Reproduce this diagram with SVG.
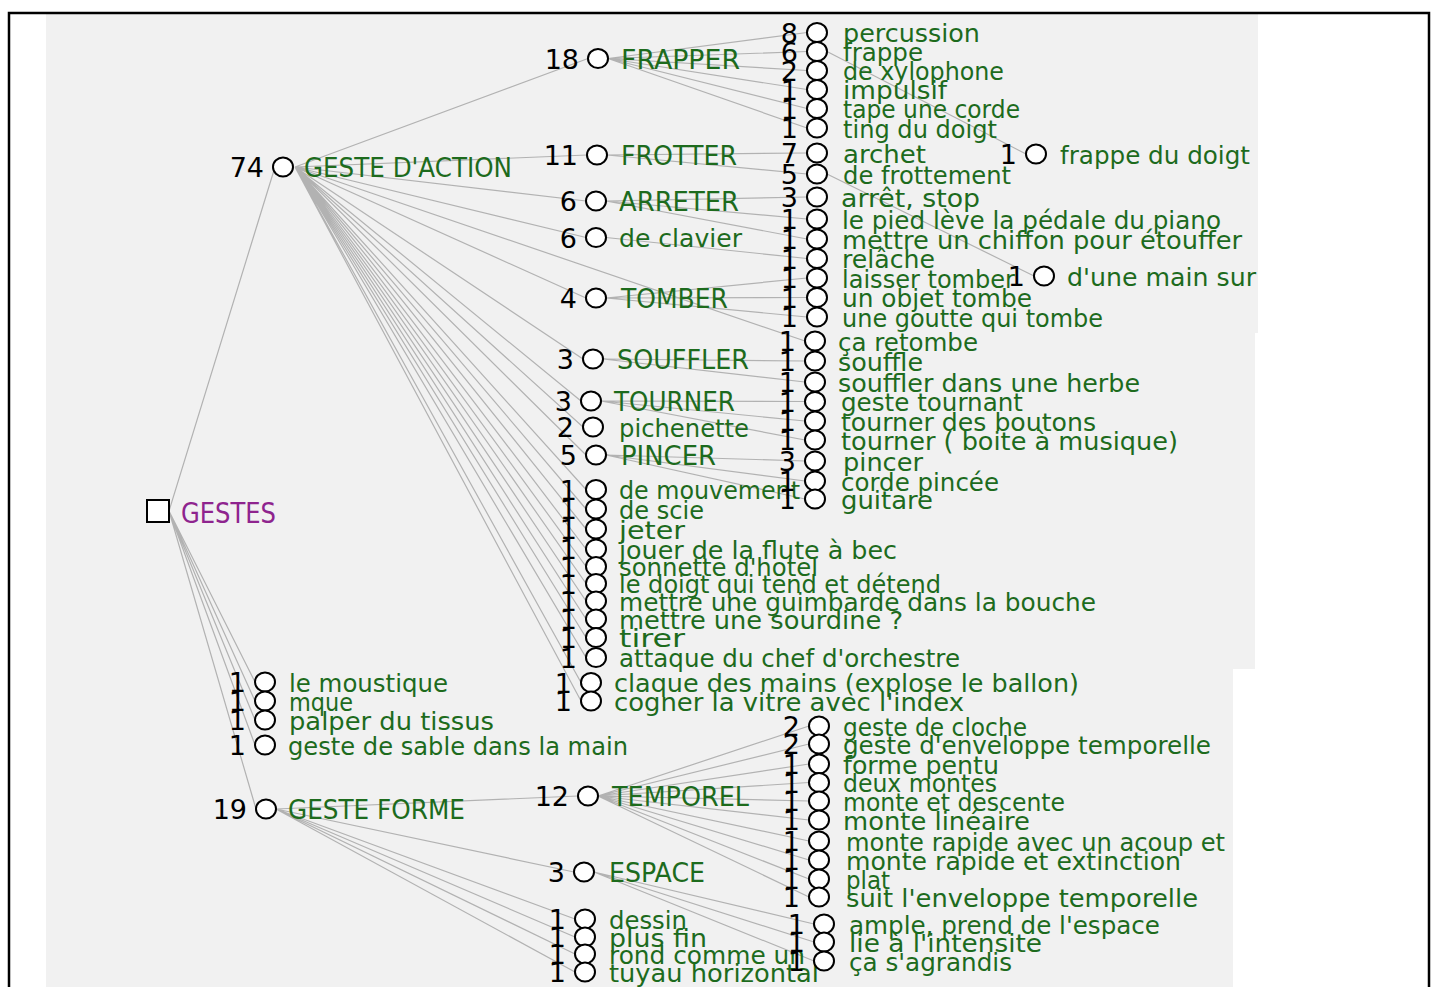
<svg xmlns="http://www.w3.org/2000/svg" width="1437" height="987" viewBox="0 0 1437 987">
<style>
.c{fill:#fff;stroke:#000;stroke-width:2}
.n{font-family:'DejaVu Sans',sans-serif;font-size:27px;fill:#000;text-anchor:end}
.l{font-family:'DejaVu Sans',sans-serif;font-size:24px;fill:#1d6b1d}
.u{font-size:27px}
.e{stroke:#b2b2b2;stroke-width:1.2;fill:none}
</style>
<rect x="0" y="0" width="1437" height="987" fill="#fff"/>
<polygon points="46,14 1258,14 1258,333 1255,333 1255,669 1233,669 1233,987 46,987" fill="#f1f1f1"/>
<rect x="9" y="13" width="1420" height="1000" fill="none" stroke="#000" stroke-width="2.5"/>
<g id="connectors" class="e">
<path d="M169,511L275,167M169,511L256,809M169,511L255,682M169,511L255,701M169,511L255,720M169,511L255,745"/>
<path d="M295,167L588,58.5M295,167L587,155M295,167L586,201M295,167L586,237.5M295,167L586,298M295,167L583,359M295,167L581,401M295,167L583,427M295,167L586,455M295,167L586,489.5M295,167L586,509M295,167L586,529M295,167L586,549M295,167L586,566.5M295,167L586,583.5M295,167L586,601M295,167L586,619M295,167L586,637.5M295,167L586,657.5M295,167L581,682.5M295,167L581,701M295,167L805,341"/>
<path d="M608,58.5L807,32.5M608,58.5L807,51.5M608,58.5L807,70.5M608,58.5L807,89.5M608,58.5L807,108.5M608,58.5L807,128M827,51.5L1026,154"/>
<path d="M607,155L807,153M607,155L807,174M827,174L1034,276"/>
<path d="M606,201L807,197M606,201L807,219M606,201L807,239M606,237.5L807,258.5"/>
<path d="M606,298L807,278M606,298L807,297.5M606,298L807,317"/>
<path d="M603,359L805,361M603,359L805,382M601,401L805,401.5M601,401L805,421M601,401L805,440"/>
<path d="M606,455L805,461M606,455L805,481M606,455L805,499"/>
<path d="M276,809L578,796M276,809L574,872M276,809L575,919M276,809L575,937M276,809L575,954M276,809L575,972"/>
<path d="M598,796L809,726M598,796L809,744M598,796L809,764M598,796L809,782.5M598,796L809,801M598,796L809,820M598,796L809,841M598,796L809,860M598,796L809,879M598,796L809,897"/>
<path d="M594,872L814,924M594,872L814,942M594,872L814,961"/>
</g>
<g id="root"><rect x="147" y="500" width="22" height="22" class="c"/><text x="181" y="523" font-family="'DejaVu Sans',sans-serif" font-size="28" fill="#8e248e" textLength="95" lengthAdjust="spacingAndGlyphs">GESTES</text></g>
<g id="n-action"><ellipse class="c" cx="283" cy="167" rx="10" ry="9.5"/><text class="n" x="264" y="177">74</text><text class="l u" x="304" y="177" textLength="208" lengthAdjust="spacingAndGlyphs">GESTE D'ACTION</text></g>
<g id="n-forme"><ellipse class="c" cx="266" cy="809" rx="10" ry="9.5"/><text class="n" x="247" y="819">19</text><text class="l u" x="288" y="819" textLength="177" lengthAdjust="spacingAndGlyphs">GESTE FORME</text></g>
<g id="n-moustique"><ellipse class="c" cx="265" cy="682" rx="10" ry="9.5"/><text class="n" x="246" y="692">1</text><text class="l" x="289" y="691.5" textLength="159" lengthAdjust="spacingAndGlyphs">le moustique</text></g>
<g id="n-mque"><ellipse class="c" cx="265" cy="701" rx="10" ry="9.5"/><text class="n" x="246" y="711">1</text><text class="l" x="289" y="710.5" textLength="64" lengthAdjust="spacingAndGlyphs">mque</text></g>
<g id="n-palper"><ellipse class="c" cx="265" cy="720" rx="10" ry="9.5"/><text class="n" x="246" y="730">1</text><text class="l" x="289" y="729.5" textLength="205" lengthAdjust="spacingAndGlyphs">palper du tissus</text></g>
<g id="n-sable"><ellipse class="c" cx="265" cy="745" rx="10" ry="9.5"/><text class="n" x="246" y="755">1</text><text class="l" x="288" y="754.5" textLength="340" lengthAdjust="spacingAndGlyphs">geste de sable dans la main</text></g>
<g id="n-frapper"><ellipse class="c" cx="598" cy="58.5" rx="10" ry="9.5"/><text class="n" x="579" y="68.5">18</text><text class="l u" x="621" y="68.5" textLength="119" lengthAdjust="spacingAndGlyphs">FRAPPER</text></g>
<g id="n-frotter"><ellipse class="c" cx="597" cy="155" rx="10" ry="9.5"/><text class="n" x="578" y="165">11</text><text class="l u" x="621" y="165" textLength="116" lengthAdjust="spacingAndGlyphs">FROTTER</text></g>
<g id="n-arreter"><ellipse class="c" cx="596" cy="201" rx="10" ry="9.5"/><text class="n" x="577" y="211">6</text><text class="l u" x="619" y="211" textLength="120" lengthAdjust="spacingAndGlyphs">ARRETER</text></g>
<g id="n-clavier"><ellipse class="c" cx="596" cy="237.5" rx="10" ry="9.5"/><text class="n" x="577" y="247.5">6</text><text class="l" x="619" y="247" textLength="123" lengthAdjust="spacingAndGlyphs">de clavier</text></g>
<g id="n-tomber"><ellipse class="c" cx="596" cy="298" rx="10" ry="9.5"/><text class="n" x="577" y="308">4</text><text class="l u" x="621" y="308" textLength="107" lengthAdjust="spacingAndGlyphs">TOMBER</text></g>
<g id="n-souffler"><ellipse class="c" cx="593" cy="359" rx="10" ry="9.5"/><text class="n" x="574" y="369">3</text><text class="l u" x="617" y="369" textLength="132" lengthAdjust="spacingAndGlyphs">SOUFFLER</text></g>
<g id="n-tourner"><ellipse class="c" cx="591" cy="401" rx="10" ry="9.5"/><text class="n" x="572" y="411">3</text><text class="l u" x="614" y="411" textLength="121" lengthAdjust="spacingAndGlyphs">TOURNER</text></g>
<g id="n-pichenette"><ellipse class="c" cx="593" cy="427" rx="10" ry="9.5"/><text class="n" x="574" y="437">2</text><text class="l" x="619" y="436.5" textLength="130" lengthAdjust="spacingAndGlyphs">pichenette</text></g>
<g id="n-pincer"><ellipse class="c" cx="596" cy="455" rx="10" ry="9.5"/><text class="n" x="577" y="465">5</text><text class="l u" x="621" y="465" textLength="95" lengthAdjust="spacingAndGlyphs">PINCER</text></g>
<g id="n-mouvement"><ellipse class="c" cx="596" cy="489.5" rx="10" ry="9.5"/><text class="n" x="577" y="499.5">1</text><text class="l" x="619" y="499" textLength="181" lengthAdjust="spacingAndGlyphs">de mouvement</text></g>
<g id="n-scie"><ellipse class="c" cx="596" cy="509" rx="10" ry="9.5"/><text class="n" x="577" y="519">1</text><text class="l" x="619" y="518.5" textLength="85" lengthAdjust="spacingAndGlyphs">de scie</text></g>
<g id="n-jeter"><ellipse class="c" cx="596" cy="529" rx="10" ry="9.5"/><text class="n" x="577" y="539">1</text><text class="l" x="619" y="538.5" textLength="66" lengthAdjust="spacingAndGlyphs">jeter</text></g>
<g id="n-flute"><ellipse class="c" cx="596" cy="549" rx="10" ry="9.5"/><text class="n" x="577" y="559">1</text><text class="l" x="619" y="558.5" textLength="278" lengthAdjust="spacingAndGlyphs">jouer de la flute à bec</text></g>
<g id="n-sonnette"><ellipse class="c" cx="596" cy="566.5" rx="10" ry="9.5"/><text class="n" x="577" y="576.5">1</text><text class="l" x="619" y="576" textLength="199" lengthAdjust="spacingAndGlyphs">sonnette d'hotel</text></g>
<g id="n-doigt"><ellipse class="c" cx="596" cy="583.5" rx="10" ry="9.5"/><text class="n" x="577" y="593.5">1</text><text class="l" x="619" y="593" textLength="322" lengthAdjust="spacingAndGlyphs">le doigt qui tend et détend</text></g>
<g id="n-guimbarde"><ellipse class="c" cx="596" cy="601" rx="10" ry="9.5"/><text class="n" x="577" y="611">1</text><text class="l" x="619" y="610.5" textLength="477" lengthAdjust="spacingAndGlyphs">mettre une guimbarde dans la bouche</text></g>
<g id="n-sourdine"><ellipse class="c" cx="596" cy="619" rx="10" ry="9.5"/><text class="n" x="577" y="629">1</text><text class="l" x="619" y="628.5" textLength="284" lengthAdjust="spacingAndGlyphs">mettre une sourdine ?</text></g>
<g id="n-tirer"><ellipse class="c" cx="596" cy="637.5" rx="10" ry="9.5"/><text class="n" x="577" y="647.5">1</text><text class="l" x="619" y="647" textLength="66" lengthAdjust="spacingAndGlyphs">tirer</text></g>
<g id="n-attaque"><ellipse class="c" cx="596" cy="657.5" rx="10" ry="9.5"/><text class="n" x="577" y="667.5">1</text><text class="l" x="619" y="667" textLength="341" lengthAdjust="spacingAndGlyphs">attaque du chef d'orchestre</text></g>
<g id="n-claque"><ellipse class="c" cx="591" cy="682.5" rx="10" ry="9.5"/><text class="n" x="572" y="692.5">1</text><text class="l" x="614" y="692" textLength="465" lengthAdjust="spacingAndGlyphs">claque des mains (explose le ballon)</text></g>
<g id="n-cogner"><ellipse class="c" cx="591" cy="701" rx="10" ry="9.5"/><text class="n" x="572" y="711">1</text><text class="l" x="614" y="710.5" textLength="350" lengthAdjust="spacingAndGlyphs">cogner la vitre avec l'index</text></g>
<g id="n-percussion"><ellipse class="c" cx="817" cy="32.5" rx="10" ry="9.5"/><text class="n" x="798" y="42.5">8</text><text class="l" x="843" y="42" textLength="137" lengthAdjust="spacingAndGlyphs">percussion</text></g>
<g id="n-frappe"><ellipse class="c" cx="817" cy="51.5" rx="10" ry="9.5"/><text class="n" x="798" y="61.5">6</text><text class="l" x="843" y="61" textLength="80" lengthAdjust="spacingAndGlyphs">frappe</text></g>
<g id="n-xylophone"><ellipse class="c" cx="817" cy="70.5" rx="10" ry="9.5"/><text class="n" x="798" y="80.5">2</text><text class="l" x="843" y="80" textLength="161" lengthAdjust="spacingAndGlyphs">de xylophone</text></g>
<g id="n-impulsif"><ellipse class="c" cx="817" cy="89.5" rx="10" ry="9.5"/><text class="n" x="798" y="99.5">1</text><text class="l" x="843" y="99" textLength="104" lengthAdjust="spacingAndGlyphs">impulsif</text></g>
<g id="n-tape"><ellipse class="c" cx="817" cy="108.5" rx="10" ry="9.5"/><text class="n" x="798" y="118.5">1</text><text class="l" x="843" y="118" textLength="177" lengthAdjust="spacingAndGlyphs">tape une corde</text></g>
<g id="n-ting"><ellipse class="c" cx="817" cy="128" rx="10" ry="9.5"/><text class="n" x="798" y="138">1</text><text class="l" x="843" y="137.5" textLength="154" lengthAdjust="spacingAndGlyphs">ting du doigt</text></g>
<g id="n-archet"><ellipse class="c" cx="817" cy="153" rx="10" ry="9.5"/><text class="n" x="798" y="163">7</text><text class="l" x="843" y="162.5" textLength="83" lengthAdjust="spacingAndGlyphs">archet</text></g>
<g id="n-frottement"><ellipse class="c" cx="817" cy="174" rx="10" ry="9.5"/><text class="n" x="798" y="184">5</text><text class="l" x="843" y="183.5" textLength="168" lengthAdjust="spacingAndGlyphs">de frottement</text></g>
<g id="n-arret"><ellipse class="c" cx="817" cy="197" rx="10" ry="9.5"/><text class="n" x="798" y="207">3</text><text class="l" x="841" y="206.5" textLength="139" lengthAdjust="spacingAndGlyphs">arrêt, stop</text></g>
<g id="n-pied"><ellipse class="c" cx="817" cy="219" rx="10" ry="9.5"/><text class="n" x="798" y="229">1</text><text class="l" x="842" y="228.5" textLength="379" lengthAdjust="spacingAndGlyphs">le pied lève la pédale du piano</text></g>
<g id="n-chiffon"><ellipse class="c" cx="817" cy="239" rx="10" ry="9.5"/><text class="n" x="798" y="249">1</text><text class="l" x="842" y="248.5" textLength="400" lengthAdjust="spacingAndGlyphs">mettre un chiffon pour étouffer</text></g>
<g id="n-relache"><ellipse class="c" cx="817" cy="258.5" rx="10" ry="9.5"/><text class="n" x="798" y="268.5">1</text><text class="l" x="842" y="268" textLength="93" lengthAdjust="spacingAndGlyphs">relâche</text></g>
<g id="n-laisser"><ellipse class="c" cx="817" cy="278" rx="10" ry="9.5"/><text class="n" x="798" y="288">1</text><text class="l" x="842" y="287.5" textLength="173" lengthAdjust="spacingAndGlyphs">laisser tomber</text></g>
<g id="n-objet"><ellipse class="c" cx="817" cy="297.5" rx="10" ry="9.5"/><text class="n" x="798" y="307.5">1</text><text class="l" x="842" y="307" textLength="190" lengthAdjust="spacingAndGlyphs">un objet tombe</text></g>
<g id="n-goutte"><ellipse class="c" cx="817" cy="317" rx="10" ry="9.5"/><text class="n" x="798" y="327">1</text><text class="l" x="842" y="326.5" textLength="261" lengthAdjust="spacingAndGlyphs">une goutte qui tombe</text></g>
<g id="n-retombe"><ellipse class="c" cx="815" cy="341" rx="10" ry="9.5"/><text class="n" x="796" y="351">1</text><text class="l" x="838" y="350.5" textLength="140" lengthAdjust="spacingAndGlyphs">ça retombe</text></g>
<g id="n-souffle"><ellipse class="c" cx="815" cy="361" rx="10" ry="9.5"/><text class="n" x="796" y="371">1</text><text class="l" x="838" y="370.5" textLength="85" lengthAdjust="spacingAndGlyphs">souffle</text></g>
<g id="n-herbe"><ellipse class="c" cx="815" cy="382" rx="10" ry="9.5"/><text class="n" x="796" y="392">1</text><text class="l" x="838" y="391.5" textLength="302" lengthAdjust="spacingAndGlyphs">souffler dans une herbe</text></g>
<g id="n-tournant"><ellipse class="c" cx="815" cy="401.5" rx="10" ry="9.5"/><text class="n" x="796" y="411.5">1</text><text class="l" x="841" y="411" textLength="182" lengthAdjust="spacingAndGlyphs">geste tournant</text></g>
<g id="n-boutons"><ellipse class="c" cx="815" cy="421" rx="10" ry="9.5"/><text class="n" x="796" y="431">1</text><text class="l" x="841" y="430.5" textLength="255" lengthAdjust="spacingAndGlyphs">tourner des boutons</text></g>
<g id="n-boite"><ellipse class="c" cx="815" cy="440" rx="10" ry="9.5"/><text class="n" x="796" y="450">1</text><text class="l" x="841" y="449.5" textLength="337" lengthAdjust="spacingAndGlyphs">tourner ( boite à musique)</text></g>
<g id="n-pincer2"><ellipse class="c" cx="815" cy="461" rx="10" ry="9.5"/><text class="n" x="796" y="471">3</text><text class="l" x="843" y="470.5" textLength="80" lengthAdjust="spacingAndGlyphs">pincer</text></g>
<g id="n-corde"><ellipse class="c" cx="815" cy="481" rx="10" ry="9.5"/><text class="n" x="796" y="491">1</text><text class="l" x="841" y="490.5" textLength="158" lengthAdjust="spacingAndGlyphs">corde pincée</text></g>
<g id="n-guitare"><ellipse class="c" cx="815" cy="499" rx="10" ry="9.5"/><text class="n" x="796" y="509">1</text><text class="l" x="841" y="508.5" textLength="92" lengthAdjust="spacingAndGlyphs">guitare</text></g>
<g id="n-frappedoigt"><ellipse class="c" cx="1036" cy="154" rx="10" ry="9.5"/><text class="n" x="1017" y="164">1</text><text class="l" x="1060" y="163.5" textLength="190" lengthAdjust="spacingAndGlyphs">frappe du doigt</text></g>
<g id="n-mainsur"><ellipse class="c" cx="1044" cy="276" rx="10" ry="9.5"/><text class="n" x="1025" y="286">1</text><text class="l" x="1067" y="285.5" textLength="189" lengthAdjust="spacingAndGlyphs">d'une main sur</text></g>
<g id="n-temporel"><ellipse class="c" cx="588" cy="796" rx="10" ry="9.5"/><text class="n" x="569" y="806">12</text><text class="l u" x="612" y="806" textLength="137" lengthAdjust="spacingAndGlyphs">TEMPOREL</text></g>
<g id="n-espace"><ellipse class="c" cx="584" cy="872" rx="10" ry="9.5"/><text class="n" x="565" y="882">3</text><text class="l u" x="609" y="882" textLength="96" lengthAdjust="spacingAndGlyphs">ESPACE</text></g>
<g id="n-dessin"><ellipse class="c" cx="585" cy="919" rx="10" ry="9.5"/><text class="n" x="566" y="929">1</text><text class="l" x="609" y="928.5" textLength="78" lengthAdjust="spacingAndGlyphs">dessin</text></g>
<g id="n-plusfin"><ellipse class="c" cx="585" cy="937" rx="10" ry="9.5"/><text class="n" x="566" y="947">1</text><text class="l" x="609" y="946.5" textLength="98" lengthAdjust="spacingAndGlyphs">plus fin</text></g>
<g id="n-rond"><ellipse class="c" cx="585" cy="954" rx="10" ry="9.5"/><text class="n" x="566" y="964">1</text><text class="l" x="609" y="963.5" textLength="196" lengthAdjust="spacingAndGlyphs">rond comme un</text></g>
<g id="n-tuyau"><ellipse class="c" cx="585" cy="972" rx="10" ry="9.5"/><text class="n" x="566" y="982">1</text><text class="l" x="609" y="981.5" textLength="210" lengthAdjust="spacingAndGlyphs">tuyau horizontal</text></g>
<g id="n-cloche"><ellipse class="c" cx="819" cy="726" rx="10" ry="9.5"/><text class="n" x="800" y="736">2</text><text class="l" x="843" y="735.5" textLength="184" lengthAdjust="spacingAndGlyphs">geste de cloche</text></g>
<g id="n-enveloppe"><ellipse class="c" cx="819" cy="744" rx="10" ry="9.5"/><text class="n" x="800" y="754">2</text><text class="l" x="843" y="753.5" textLength="368" lengthAdjust="spacingAndGlyphs">geste d'enveloppe temporelle</text></g>
<g id="n-pentu"><ellipse class="c" cx="819" cy="764" rx="10" ry="9.5"/><text class="n" x="800" y="774">1</text><text class="l" x="843" y="773.5" textLength="156" lengthAdjust="spacingAndGlyphs">forme pentu</text></g>
<g id="n-montes"><ellipse class="c" cx="819" cy="782.5" rx="10" ry="9.5"/><text class="n" x="800" y="792.5">1</text><text class="l" x="843" y="792" textLength="154" lengthAdjust="spacingAndGlyphs">deux montes</text></g>
<g id="n-descente"><ellipse class="c" cx="819" cy="801" rx="10" ry="9.5"/><text class="n" x="800" y="811">1</text><text class="l" x="843" y="810.5" textLength="222" lengthAdjust="spacingAndGlyphs">monte et descente</text></g>
<g id="n-lineaire"><ellipse class="c" cx="819" cy="820" rx="10" ry="9.5"/><text class="n" x="800" y="830">1</text><text class="l" x="843" y="829.5" textLength="187" lengthAdjust="spacingAndGlyphs">monte linéaire</text></g>
<g id="n-acoup"><ellipse class="c" cx="819" cy="841" rx="10" ry="9.5"/><text class="n" x="800" y="851">1</text><text class="l" x="846" y="850.5" textLength="379" lengthAdjust="spacingAndGlyphs">monte rapide avec un acoup et</text></g>
<g id="n-extinction"><ellipse class="c" cx="819" cy="860" rx="10" ry="9.5"/><text class="n" x="800" y="870">1</text><text class="l" x="846" y="869.5" textLength="335" lengthAdjust="spacingAndGlyphs">monte rapide et extinction</text></g>
<g id="n-plat"><ellipse class="c" cx="819" cy="879" rx="10" ry="9.5"/><text class="n" x="800" y="889">1</text><text class="l" x="846" y="888.5" textLength="44" lengthAdjust="spacingAndGlyphs">plat</text></g>
<g id="n-suit"><ellipse class="c" cx="819" cy="897" rx="10" ry="9.5"/><text class="n" x="800" y="907">1</text><text class="l" x="846" y="906.5" textLength="352" lengthAdjust="spacingAndGlyphs">suit l'enveloppe temporelle</text></g>
<g id="n-ample"><ellipse class="c" cx="824" cy="924" rx="10" ry="9.5"/><text class="n" x="805" y="934">1</text><text class="l" x="849" y="933.5" textLength="311" lengthAdjust="spacingAndGlyphs">ample, prend de l'espace</text></g>
<g id="n-intensite"><ellipse class="c" cx="824" cy="942" rx="10" ry="9.5"/><text class="n" x="805" y="952">1</text><text class="l" x="849" y="951.5" textLength="193" lengthAdjust="spacingAndGlyphs">lie à l'intensite</text></g>
<g id="n-agrandis"><ellipse class="c" cx="824" cy="961" rx="10" ry="9.5"/><text class="n" x="805" y="971">1</text><text class="l" x="849" y="970.5" textLength="163" lengthAdjust="spacingAndGlyphs">ça s'agrandis</text></g>
</svg>
